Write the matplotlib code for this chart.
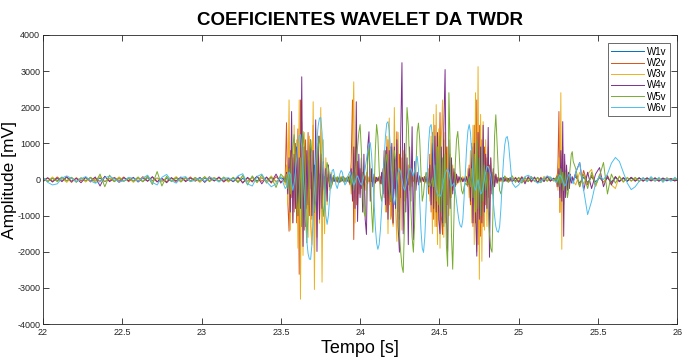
import numpy as np
import matplotlib
matplotlib.use("Agg")
import matplotlib.pyplot as plt

plt.rcParams['font.family'] = ['Liberation Sans', 'DejaVu Sans']
plt.rcParams['axes.unicode_minus'] = False

# sampling of each stretch of the record: (start time [s], step [s])
PRE = (22.00, 0.03)
ACT = (23.52, 0.008)
POST = (24.96, 0.02)
B6 = (25.23, 0.006)
TAIL = (25.36, 0.025)

labels = ['W1v', 'W2v', 'W3v', 'W4v', 'W5v', 'W6v']
colors = ['#0072BD', '#D95319', '#EDB120', '#7E2F8E', '#77AC30', '#4DBEEE']

# ---- W1v ----
w1v_pre = [30, -50, 40, -30, 60, -40, 50, -60, 30, -40,
           50, -30, 40, -60, 30, -50, 60, -40, 30, -50,
           40, -60, 50, -30, 40, -50, 30, -40, 60, -30,
           50, -40, 30, -60, 40, -30, 50, -40, 30, -50,
           40, -60, 30, -50, 60, -40, 50, -30, 70, -60, 40]
w1v_act = [20, -40, 100, -200, 300, -250, 200, -300, 250, -200,
           300, -350, 400, -300, 250, -350, 300, -200, 250, -300,
           350, -250, 200, -300, 400, -350, 250, -200, 150, -200,
           150, -100, 80, -60, 50, -40, 60, -30, 40, -50,
           30, -40, 50, -30, 40, -50, 30, -40, 20, -30,
           40, -30, 50, -80, 150, -250, 200, -150, 100, -80,
           60, -50, 40, -60, 50, -40, 30, -50, 40, -30,
           20, -40, 30, -20, 40, -30, 50, -60, 100, -150,
           200, -250, 300, -200, 250, -300, 200, -250, 300, -200,
           250, -200, 150, -200, 100, -80, 60, -50, 40, -30,
           50, -40, 30, -20, 40, -50, 30, -40, 20, -30,
           40, -50, 30, -60, 100, -150, 200, -250, 300, -200,
           250, -300, 200, -250, 300, -200, 250, -300, 200, -150,
           100, -80, 60, -50, 40, -30, 50, -40, 30, -20,
           40, -30, 20, -40, 30, -50, 100, -150, 200, -250,
           300, -250, 350, -300, 250, -200, 300, -250, 200, -150,
           100, -80, 60, -50, 40, -30, 20, -40, 30, -20,
           30, -20, 40, -30, 20, -40, 30, -20, 40, -30]
w1v_post = [30, -40, 50, -30, 40, -50, 30, -40, 50, -30, 40, -30, 20, -30]
w1v_b6 = [20, -40, 80, -150, 250, -300, 350, -300, 250, -200,
          150, -100, 80, -60, 40, -30, 20, -40, 30, -20]
w1v_tail = [80, -100, 60, -80, 70, -60, 50, -70, 40, -60, 50, -40, 30, -50,
            40, -30, 50, -40, 30, -20, 40, -30, 20, -40, 30, -20, 10]

# ---- W2v ----
w2v_pre = [-60, 40, -50, 70, -30, 60, -80, 50, -40, 60,
           -70, 30, -50, 80, -40, 60, -30, 70, -60, 40,
           -50, 80, -40, 60, -70, 30, -60, 50, -80, 40,
           -30, 70, -50, 40, -60, 80, -40, 50, -70, 30,
           -60, 50, -80, 40, -70, 90, -50, 60, -100, 80, -60]
w2v_act = [-40, 120, 1570, -600, -1430, 800, -500, 600, -900, 1000,
           -1200, 1400, -2620, 2200, -1300, 900, -1400, 1100, -800, 1300,
           -1000, 700, -1100, 1500, -1900, 800, -700, 1000, -1200, 1300,
           -900, 600, -500, 300, -250, 150, -100, 80, -60, 40,
           -30, 60, -50, 40, -70, 50, -40, 80, -60, 30,
           -50, 80, -150, 500, 2200, -1660, 900, -700, 500, -400,
           300, -250, 200, -150, 100, -80, 60, -50, 40, -60,
           50, -40, 70, -60, 40, -50, 80, -120, 300, -500,
           800, -900, 1100, -700, 900, -1000, -1240, 700, -600, 1320,
           -900, 700, -500, 600, -400, 300, -250, 200, -150, 100,
           -80, 60, -50, 40, -60, 50, -40, 30, -50, 40,
           -60, 80, -100, 200, -400, 700, -900, 1300, -1100, 1500,
           -1300, 1200, -900, 1850, -1000, -1520, 1100, -1200, 900, -700,
           600, -500, 400, -300, 200, -150, 100, -80, 60, -50,
           40, -60, 50, -40, 80, -200, 400, -700, 1000, -1300,
           1500, -1200, 2200, -1800, 1500, -1570, 1100, -1300, 900, -700,
           600, -500, 400, -300, 200, -150, 100, -80, 60, -40,
           30, -50, 40, -60, 50, -30, 40, -50, 30, -40]
w2v_post = [-40, 60, -50, 80, -60, 40, -70, 50, -80, 60, -40, 70, -50, 40]
w2v_b6 = [-30, 60, -200, 500, 1880, -910, 700, -600, 400, -300,
          250, -200, 150, -100, 80, -60, 50, -40, 30, -20]
w2v_tail = [150, -200, 250, -150, 120, -180, 100, -80, 60, -100, 80, -60, 50, -40,
            60, -30, 40, -50, 30, -40, 50, -30, 40, -20, 30, -40, 20]

# ---- W3v ----
w3v_pre = [50, -40, 70, -60, 30, -80, 60, -50, 40, -70,
           60, -30, 80, -50, 40, -60, 70, -40, 50, -80,
           30, -60, 90, -50, 40, -70, 60, -30, 80, -40,
           50, -60, 30, -80, 70, -40, 60, -50, 40, -70,
           60, -40, 80, -60, 50, -90, 70, -50, 100, -80, 60]
w3v_act = [60, -150, 400, -700, 2200, -1400, 900, -1200, 1500, -800,
           1100, -1900, 2200, -3310, 1600, -2100, 1300, -900, 700, -1600,
           1200, -1300, -1800, 2150, -3040, 1400, -1600, 900, -1200, 1990,
           -2840, 1100, -1500, 600, -700, 400, -300, 200, -150, 100,
           -60, 40, -80, 70, -50, 90, -40, 60, -90, 50,
           30, -80, 150, -400, 900, 2700, -1200, 600, -700, 300,
           -400, 250, -200, 150, -300, 200, -120, 80, -60, 100,
           -70, 50, -90, 60, -40, 80, -100, 150, -300, 600,
           -900, 1200, -1500, 1700, -1100, 900, -1300, 1990, -800, -1710,
           1300, -1100, 900, -1400, 800, -600, 700, -500, 400, -300,
           250, -200, 150, -100, 80, -60, 50, -80, 60, -40,
           70, -50, 90, -120, 300, -600, 1200, -1500, 1800, -1300,
           2070, -1800, 1400, -1900, 1100, 2200, -1600, 1300, -1200, 900,
           -1000, 700, -500, 400, -300, 200, -150, 100, -80, 60,
           -50, 80, -60, 100, -150, 300, -500, 800, -1200, 1500,
           -1800, 2400, -2000, 3120, -2760, 1800, -2260, 1600, -1400, 1100,
           -1300, 900, -800, 600, -400, 300, -200, 150, -100, 80,
           -60, 40, -70, 50, -40, 60, -50, 30, -60, 40]
w3v_post = [50, -70, 40, -90, 60, -50, 80, -60, 40, -70, 90, -40, 60, -50]
w3v_b6 = [40, -80, 150, -300, 600, -900, 2400, -1930, 900, -700,
          500, -400, 300, -200, 150, -100, 80, -60, 50, -40]
w3v_tail = [-150, 200, -120, 150, 280, -200, 150, -100, 120, -150, -250, 100, -80, 60,
            -50, 40, -60, 50, -30, 40, -50, 30, -40, 50, -30, 40, -20]

# ---- W4v ----
w4v_pre = [-30, 50, -70, 40, -60, 80, -50, 30, -90, 60,
           -40, 70, -180, 90, -60, 40, -80, 50, -30, 60,
           -70, 40, -50, 80, -60, 30, -90, 50, -40, 70,
           -60, 40, -30, 60, -80, 50, -40, 70, -50, 30,
           -60, 80, -100, 60, -50, 90, -120, 70, -80, 150, -100]
w4v_act = [30, -60, 200, -400, 600, -900, 1880, -1200, 700, -800,
           900, -1000, 600, -800, 2840, -1850, 900, -1300, 800, -700,
           500, 1100, -1000, 800, -900, 1650, -1990, 1200, -1100, 700,
           -800, 500, -400, 300, -600, 400, -200, 150, -100, 80,
           -50, 30, -60, 40, -80, 50, -30, 70, -50, 40,
           -40, 60, -100, 300, -600, 900, -800, 2150, -1160, 700,
           -500, 600, -900, 700, -1100, -1520, 900, 1320, -600, 300,
           -200, 150, -100, 60, -40, 80, -120, 200, -400, 800,
           -700, 900, -1100, 800, -600, 1000, -1200, 900, -800, 1100,
           -1300, -2010, 1200, 3230, -1500, 1000, -900, 600, -1800, 900,
           -600, 1460, -1660, 500, -300, 200, -150, 100, -80, 60,
           -50, 80, -60, 100, -200, 400, -700, 1000, -800, 1200,
           -900, 1300, -1100, -1500, 900, -1200, 1400, 3040, -1000, -1990,
           1100, -800, 600, -400, 300, -200, 150, -100, 80, -50,
           40, -60, 30, -50, 70, -150, 300, -600, 900, -1200,
           1000, -900, -2120, 1300, -1100, 900, -1200, 1500, -900, 700,
           -800, 1440, -2150, 600, -400, 300, -200, 150, -100, 60,
           -40, 50, -30, 60, -50, 40, -60, 30, -40, 50]
w4v_post = [-60, 40, -80, 60, -120, 80, -50, 70, -90, 40, -60, 90, -40, 30]
w4v_b6 = [20, -50, 100, -200, 300, -500, 800, -600, 1600, -1570,
          700, -500, 400, -300, 200, -250, 150, -100, 80, -60]
w4v_tail = [200, 470, -300, 200, -250, 150, 330, -200, 100, -150, 80, -60, 50, -40,
            60, -50, 40, -30, 50, -40, 30, -50, 40, -30, 20, -40, 30]

# ---- W5v ----
w5v_pre = [40, -60, 30, -50, 70, -40, 60, -80, 50, -30,
           60, -90, 150, -200, 120, -60, 40, -50, 30, -40,
           70, -60, 100, -140, 220, -180, 90, -60, 40, -70,
           50, -40, 60, -30, 80, -60, 40, -50, 70, -40,
           60, -90, 120, -150, 100, -80, 130, -100, 60, -220, 150]
w5v_act = [50, -80, 150, -250, 300, -400, 500, 900, 1240, 400,
           -600, -1000, -400, 600, -1300, 1330, 900, -200, -1750, -900,
           500, 1100, 700, -300, -900, -600, 300, 900, 1200, 600,
           -400, -1020, -700, 100, 470, 300, -100, -250, -80, 120,
           60, -40, 80, -100, 60, -50, 90, -70, 40, -60,
           80, -60, 100, -150, 200, -300, 100, 500, 900, 1300,
           1520, 800, -300, -900, -1020, -300, 500, 900, 200, -800,
           -1460, -400, 800, 1520, 1200, 300, -400, -600, -300, 100,
           400, 700, 300, -300, -600, -200, 400, 800, 500, -200,
           -900, -1500, -2000, -2400, -2570, -1200, 500, 1990, 1500, 400,
           -800, -1600, -2010, -1200, 300, 1300, 1560, 1100, 200, -600,
           -400, 0, 200, 100, -150, -200, -100, 50, -200, 400,
           -600, 900, -700, 1200, -900, 600, -1300, 700, -1800, -2400,
           2400, 900, -1500, -2480, -1000, 400, 1100, 1330, 800, 100,
           -300, -400, -200, -100, -150, -100, 80, -200, 300, -500,
           700, -900, 1100, -800, 600, -1000, 900, -600, 400, -300,
           200, -800, -1500, -1900, -2010, -500, 1200, 1790, 1000, 200,
           -300, -400, -200, 0, 100, 50, -50, -80, 40, 60]
w5v_post = [100, -80, 60, -100, 50, -60, 80, -40, 60, -90, 40, -50, 70, -30]
w5v_b6 = [30, -50, 80, -100, 150, -200, 300, -100, 200, -300,
          -100, 200, -200, -500, -300, 100, 400, 700, 770, 500]
w5v_tail = [300, -200, 150, -250, 200, -150, 100, 470, -400, 150, -100, 80, -60, 50,
            -40, 60, -50, 40, -30, 50, -40, 30, -50, 40, -30, 20, -20]

# ---- W6v ----
w6v_pre = [60, -80, -150, -120, 40, 100, 30, -60, 20, 80,
           -40, -100, -60, 50, 90, 20, -70, -40, 60, 30,
           -50, 40, 120, -80, -150, 60, 140, -30, -100, 50,
           80, -60, -20, 40, -50, 60, 20, -70, 30, 50,
           -40, 100, 160, -120, -180, 80, 150, -60, -200, -120, 80]
w6v_act = [-150, -250, -200, 0, 200, 150, -100, -300, -100, 200,
           600, 1000, 1200, 1240, 900, 300, -400, -1100, -1700, -2050,
           -2200, -2208, -1800, -1100, -300, 500, 1100, 1500, 1700, 1711,
           1300, 500, -400, -1000, -1240, -1000, -500, 0, 250, 280,
           100, -150, -250, -100, 150, 250, 200, 0, -150, -100,
           50, 150, 220, 100, -50, -150, -100, 50, 100, 0,
           -100, -150, -50, 100, 300, 550, 800, 980, 1020, 700,
           100, -600, -1300, -1750, -1930, -1800, -1400, -800, -100, 600,
           1200, 1550, 1600, 1350, 800, 100, -500, -700, -500, -100,
           200, 300, 200, 0, -200, -300, -200, 0, 200, 300,
           300, 200, 100, 250, 500, 640, 300, -600, -1400, -1900,
           -2015, -1600, -800, 200, 1000, 1450, 1520, 1200, 600, 0,
           -300, -400, -450, -470, -400, -200, 0, 150, 250, 280,
           200, 0, -200, -150, -100, -300, -600, -900, -1150, -1280,
           -1320, -1100, -500, 200, 900, 1350, 1520, 1300, 700, 100,
           -200, -300, -150, 0, -200, -400, -360, -200, 0, 200,
           350, 360, 250, 100, -200, -600, -1000, -1300, -1430, -1460,
           -1300, -800, -100, 500, 950, 1150, 1190, 1000, 600, 200]
w6v_post = [-100, -220, -150, -20, 80, 120, 60, -40, -100, -60, 30, 100, 60, -20]
w6v_b6 = [-50, -80, -60, 0, 80, 120, 100, 40, -40, -120,
          -180, -150, -60, 40, 120, 150, 100, 20, -60, -120]
w6v_tail = [200, 470, -300, -970, -600, -100, 100, 0, 150, 450, 610, 500, 200, -100,
            -280, -200, -50, 50, -60, 80, -40, 60, -80, 40, -50, 60, -30]

series = [
    (w1v_pre, w1v_act, w1v_post, w1v_b6, w1v_tail),
    (w2v_pre, w2v_act, w2v_post, w2v_b6, w2v_tail),
    (w3v_pre, w3v_act, w3v_post, w3v_b6, w3v_tail),
    (w4v_pre, w4v_act, w4v_post, w4v_b6, w4v_tail),
    (w5v_pre, w5v_act, w5v_post, w5v_b6, w5v_tail),
    (w6v_pre, w6v_act, w6v_post, w6v_b6, w6v_tail),
]


def build(parts):
    t, v = [], []
    for (t0, dt), vals in zip([PRE, ACT, POST, B6, TAIL], parts):
        t.append(t0 + dt * np.arange(len(vals)))
        v.append(np.asarray(vals, dtype=float))
    return np.concatenate(t), np.concatenate(v)


fig = plt.figure(figsize=(6.82, 3.63), dpi=100)
ax = fig.add_axes([0.063, 0.107, 0.930, 0.797])

for parts, lab, col in zip(series, labels, colors):
    t, v = build(parts)
    ax.plot(t, v, color=col, lw=0.7, label=lab)

ax.set_xlim(22, 26)
ax.set_ylim(-4000, 4000)
ax.set_xticks(np.arange(22, 26.01, 0.5))
ax.set_xticklabels(['22', '22.5', '23', '23.5', '24', '24.5', '25', '25.5', '26'])
ax.set_yticks(np.arange(-4000, 4001, 1000))
ax.tick_params(direction='in', length=4, width=0.6, colors='#262626',
               labelsize=6.5, top=True, right=True, pad=3)
ax.tick_params(axis='y', pad=2)
for lbl in ax.get_xticklabels() + ax.get_yticklabels():
    lbl.set_family(['Liberation Sans Narrow', 'Liberation Sans', 'DejaVu Sans'])
for s in ax.spines.values():
    s.set_linewidth(0.6)
    s.set_color('#262626')

ax.set_title('COEFICIENTES WAVELET DA TWDR', fontsize=13.5, fontweight='bold', pad=7)
ax.set_xlabel('Tempo [s]', fontsize=13, labelpad=2)
ax.set_ylabel('Amplitude [mV]', fontsize=12.5)
ax.yaxis.set_label_coords(-0.041, 0.5)

leg = ax.legend(loc='upper right', fontsize=7, handlelength=3.4, labelspacing=0.12,
                borderpad=0.35, handletextpad=0.35, fancybox=False,
                bbox_to_anchor=(0.997, 0.987))
leg.get_frame().set_edgecolor('#262626')
leg.get_frame().set_linewidth(0.6)

fig.savefig('out.png', dpi=100)
